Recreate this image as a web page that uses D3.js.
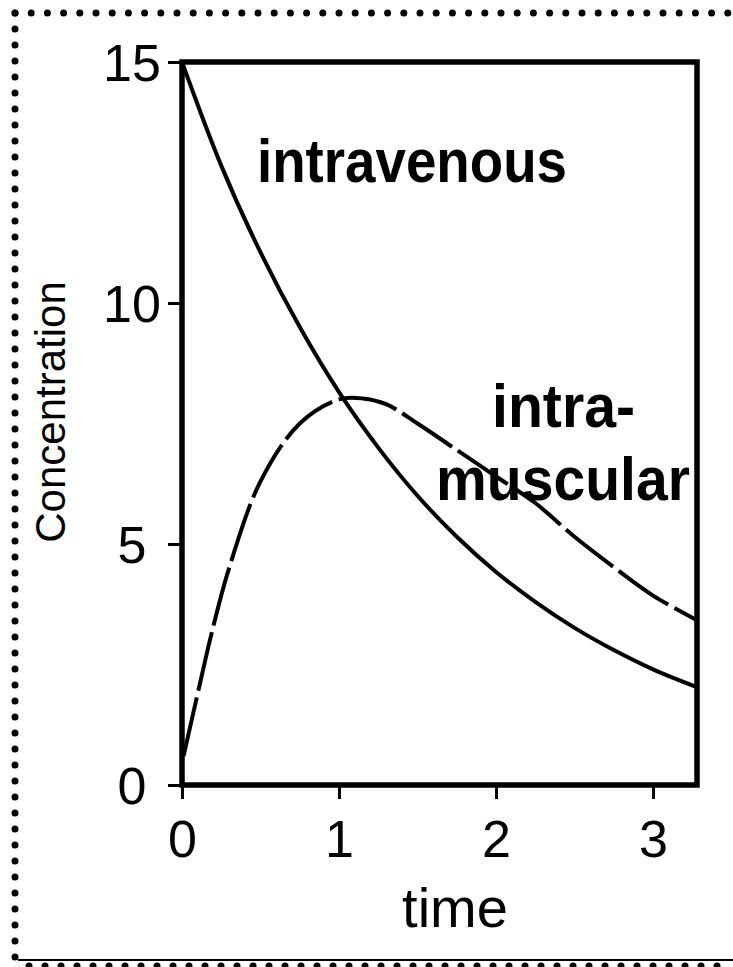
<!DOCTYPE html>
<html>
<head>
<meta charset="utf-8">
<script src="https://cdn.jsdelivr.net/npm/d3@7"></script>
<style>
  body { margin: 0; background: #fff; }
  svg { display: block; }
  text { font-family: "Liberation Sans", Arial, sans-serif; fill: #000; }
</style>
</head>
<body>
<svg id="chart"></svg>
<script>
// values
var xTicks = [0, 1, 2, 3];
var yTicks = [0, 5, 10, 15];

var ivTime = [0, 0.25, 0.5, 0.75, 1.0, 1.25, 1.5, 1.75, 2.0, 2.25, 2.5, 2.75, 3.0, 3.28];
var ivConc = [15.0, 12.85, 11.05, 9.5, 8.15, 7.0, 6.0, 5.15, 4.42, 3.8, 3.26, 2.8, 2.4, 2.03];

var imTime = [0.01, 0.1, 0.2, 0.3, 0.5, 0.75, 1.0, 1.15, 1.3, 1.5, 1.75, 2.0, 2.25, 2.5, 2.75, 3.0, 3.28];
var imConc = [0.6, 1.9, 3.3, 4.5, 6.3, 7.5, 8.0, 8.02, 7.9, 7.5, 6.95, 6.4, 5.85, 5.15, 4.52, 3.93, 3.42];

//layout
var W = 733, H = 967;
var plot = {left: 182, right: 697, top: 62, bottom: 785};

var svg = d3.select("#chart")
	.attr("width", W)
	.attr("height", H);

var x = d3.scaleLinear().domain([0, 3.28]).range([plot.left, plot.right]);
var y = d3.scaleLinear().domain([0, 15]).range([plot.bottom, plot.top]);

//dotted page border (top, left, bottom)
svg.append("line")
	.attr("x1", 15).attr("y1", 13).attr("x2", W).attr("y2", 13)
	.attr("stroke", "#000").attr("stroke-width", 7)
	.attr("stroke-linecap", "round").attr("stroke-dasharray", "0,16.2");
svg.append("line")
	.attr("x1", 15).attr("y1", 13).attr("x2", 15).attr("y2", 958)
	.attr("stroke", "#000").attr("stroke-width", 7)
	.attr("stroke-linecap", "round").attr("stroke-dasharray", "0,16");
svg.append("line")
	.attr("x1", 18).attr("y1", 960).attr("x2", W).attr("y2", 960)
	.attr("stroke", "#000").attr("stroke-width", 2);
svg.append("line")
	.attr("x1", 29).attr("y1", 966).attr("x2", W).attr("y2", 966)
	.attr("stroke", "#000").attr("stroke-width", 7)
	.attr("stroke-linecap", "round").attr("stroke-dasharray", "0,16");

//axes
var xAxis = svg.append("g")
	.attr("transform", "translate(0," + plot.bottom + ")")
	.call(d3.axisBottom(x).tickValues(xTicks).tickSize(14).tickFormat(d3.format("d")));
xAxis.select(".domain").remove();
xAxis.selectAll(".tick line").attr("stroke-width", 3);
xAxis.selectAll(".tick text")
	.attr("y", 72).attr("dy", 0)
	.attr("font-size", 52)
	.attr("font-family", "Liberation Sans, Arial, sans-serif");

var yAxis = svg.append("g")
	.attr("transform", "translate(" + plot.left + ",0)")
	.call(d3.axisLeft(y).tickValues(yTicks).tickSize(14).tickFormat(d3.format("d")));
yAxis.select(".domain").remove();
yAxis.selectAll(".tick line").attr("stroke-width", 3);
yAxis.selectAll(".tick text")
	.attr("x", -50).attr("dy", "0.36em")
	.attr("text-anchor", "middle")
	.attr("font-size", 52)
	.attr("font-family", "Liberation Sans, Arial, sans-serif");

//frame
svg.append("rect")
	.attr("x", plot.left).attr("y", plot.top)
	.attr("width", plot.right - plot.left)
	.attr("height", plot.bottom - plot.top)
	.attr("fill", "none").attr("stroke", "#000").attr("stroke-width", 5.5);

//curves
var line = d3.line()
	.x(function(d) { return x(d[0]); })
	.y(function(d) { return y(d[1]); })
	.curve(d3.curveCatmullRom.alpha(0.5));

svg.append("path")
	.datum(d3.zip(ivTime, ivConc))
	.attr("d", line)
	.attr("fill", "none").attr("stroke", "#000").attr("stroke-width", 4);

svg.append("path")
	.datum(d3.zip(imTime, imConc))
	.attr("d", line)
	.attr("fill", "none").attr("stroke", "#000").attr("stroke-width", 4)
	.attr("stroke-dasharray", "60,7");

//labels
svg.append("text")
	.text("intravenous")
	.attr("x", 257).attr("y", 182)
	.attr("font-size", 62).attr("font-weight", "bold")
	.attr("textLength", 310).attr("lengthAdjust", "spacingAndGlyphs");

svg.append("text")
	.text("intra-")
	.attr("x", 492).attr("y", 427)
	.attr("font-size", 62).attr("font-weight", "bold")
	.attr("textLength", 143).attr("lengthAdjust", "spacingAndGlyphs");

svg.append("text")
	.text("muscular")
	.attr("x", 436).attr("y", 500)
	.attr("font-size", 62).attr("font-weight", "bold")
	.attr("textLength", 254).attr("lengthAdjust", "spacingAndGlyphs");

svg.append("text")
	.text("time")
	.attr("x", 455).attr("y", 927)
	.attr("text-anchor", "middle")
	.attr("font-size", 56);

svg.append("text")
	.text("Concentration")
	.attr("transform", "translate(65,412) rotate(-90)")
	.attr("text-anchor", "middle")
	.attr("font-size", 42);
</script>
</body>
</html>
